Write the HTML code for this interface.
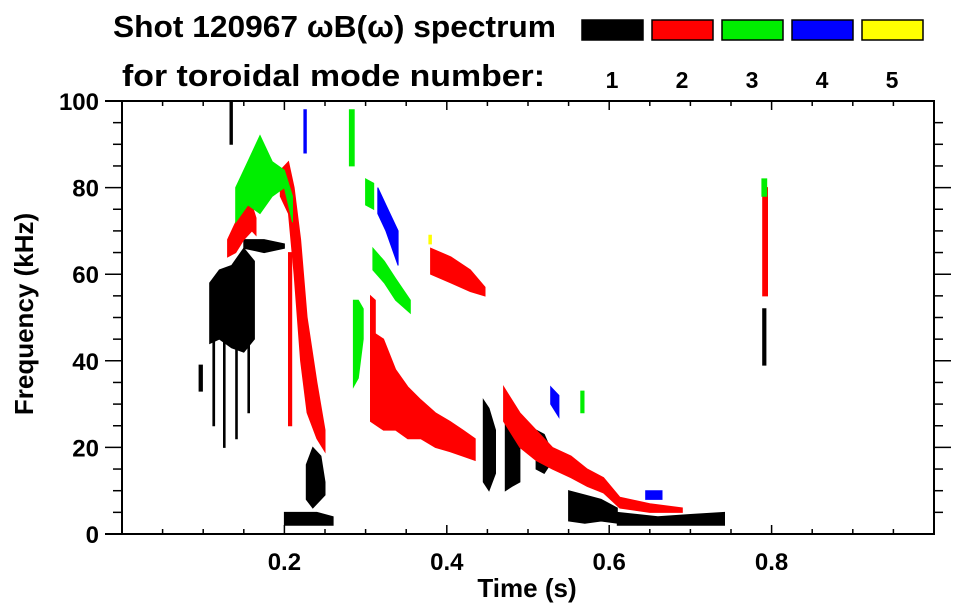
<!DOCTYPE html>
<html><head><meta charset="utf-8"><style>
html,body{margin:0;padding:0;background:#fff;}
svg{display:block;font-family:"Liberation Sans",Arial,sans-serif;font-weight:bold;}
</style></head><body>
<svg id="chart" width="963" height="615" viewBox="0 0 963 615">
<g>
<text x="113" y="37" font-size="31" textLength="443" lengthAdjust="spacingAndGlyphs">Shot 120967 ωB(ω) spectrum</text>
<text x="122" y="86" font-size="31" textLength="423" lengthAdjust="spacingAndGlyphs">for toroidal mode number:</text>
</g>
<g id="legend"></g>
<g id="marks"></g>
<g id="axes"></g>
<text x="527" y="597" font-size="26" text-anchor="middle">Time (s)</text>
<text transform="translate(33,314) rotate(-90)" font-size="26" text-anchor="middle">Frequency (kHz)</text>
</svg>
<script>
const modeColors=["#000000","#ff0000","#00ee00","#0000ff","#ffff00"];
const modeLabels=["1","2","3","4","5"];
const xTicks=[0.2,0.4,0.6,0.8];
const yTicks=[0,20,40,60,80,100];
// ridges: each is list of [time, fLow, fHigh]
const mode1Ridges=[
[[0.095,33,39],[0.099,33,39]],
[[0.108,44,58],[0.12,45,61],[0.135,43,62],[0.15,42,66],[0.163,45,63]],
[[0.112,25,45],[0.114,25,45]],[[0.125,20,45],[0.127,20,45]],[[0.14,22,44],[0.142,22,44]],[[0.155,28,44],[0.157,28,44]],
[[0.133,90,100],[0.136,90,100]],
[[0.15,66,68],[0.175,65,68],[0.2,66,67]],
[[0.2,2,5],[0.22,2,5],[0.24,2,5],[0.26,2,4]],
[[0.227,8,16],[0.235,6,20],[0.245,8,18],[0.25,9,12]],
[[0.445,12,31],[0.452,10,29],[0.46,14,24]],
[[0.472,10,26],[0.48,11,25],[0.49,12,24]],
[[0.51,15,24],[0.52,14,23],[0.527,16,20]],
[[0.55,3,10],[0.57,2.5,9],[0.59,3,8],[0.61,2.5,6]],
[[0.61,2,5],[0.66,2,4],[0.7,2,4.5],[0.742,2,5]],
[[0.789,39,52],[0.793,39,52]]
];
const mode2Ridges=[
[[0.13,64,68],[0.14,65,72],[0.15,68,77],[0.16,70,76],[0.165,69,73]],
[[0.195,78,84],[0.205,74,86],[0.212,60,80],[0.22,40,68],[0.228,28,50],[0.24,22,35],[0.25,19,24]],
[[0.205,25,65],[0.209,25,65]],
[[0.306,45,55],[0.312,44,54]],
[[0.306,26,47],[0.322,24,45],[0.337,24,38],[0.352,22,34],[0.368,22,31],[0.386,20,28],[0.404,19,26],[0.42,18,24],[0.435,17,22]],
[[0.38,60,66],[0.405,58,64],[0.429,56,61],[0.447,55,57]],
[[0.47,26,34],[0.49,20,28],[0.51,17,24],[0.53,15,20],[0.553,13,18],[0.573,11,15],[0.593,9.5,13],[0.613,6,8.5],[0.65,5,7],[0.69,5,6]],
[[0.789,55,80],[0.795,55,80]]
];
const mode3Ridges=[
[[0.14,72,80],[0.155,76,86],[0.17,74,92],[0.185,78,86],[0.2,80,84],[0.21,72,78]],
[[0.28,85,98],[0.286,85,98]],
[[0.285,34,54],[0.291,36,54],[0.297,45,52]],
[[0.3,76,82],[0.31,75,81]],
[[0.309,61,66],[0.323,58,63],[0.337,54,59],[0.355,51,54]],
[[0.565,28,33],[0.569,28,33]],
[[0.788,78,82],[0.794,78,82]]
];
const mode4Ridges=[
[[0.224,88,98],[0.227,88,98]],
[[0.315,74,80],[0.325,70,76],[0.34,62,70]],
[[0.528,30,34],[0.538,27,32]],
[[0.645,8,10],[0.665,8,10]]
];
const mode5Ridges=[
[[0.378,67,69],[0.381,67,69]]
];
const allModes=[mode1Ridges,mode2Ridges,mode3Ridges,mode4Ridges,mode5Ridges];
const NS="http://www.w3.org/2000/svg";
const X0=122,X1=934,Y0=534,Y1=101;
const xS=t=>X0+t*(X1-X0);
const yS=f=>Y0-f/100*(Y0-Y1);
function mk(tag,attrs,parent){const e=document.createElementNS(NS,tag);for(const k in attrs)e.setAttribute(k,attrs[k]);parent.appendChild(e);return e;}
const marks=document.getElementById('marks');
allModes.forEach((ridges,m)=>{
  ridges.forEach((r,i)=>{
    const top=r.map(p=>xS(p[0]).toFixed(1)+","+yS(p[2]).toFixed(1));
    const bot=r.slice().reverse().map(p=>xS(p[0]).toFixed(1)+","+yS(p[1]).toFixed(1));
    const p=mk('polygon',{points:top.concat(bot).join(" "),fill:modeColors[m],stroke:modeColors[m],'stroke-width':1},marks);
    
    
  });
});
const legend=document.getElementById('legend');
modeColors.forEach((c,i)=>{
  const x=582+i*70;
  const r=mk('rect',{x:x,y:20,width:61,height:20,fill:c,stroke:'#000','stroke-width':1.5},legend);
  
  
  const t=mk('text',{x:x+30,y:88,'font-size':23,'text-anchor':'middle'},legend);
  t.textContent=modeLabels[i];
  
  
});
const axes=document.getElementById('axes');
const frame=mk('rect',{x:X0,y:Y1,width:X1-X0,height:Y0-Y1,fill:'none',stroke:'#000','stroke-width':2},axes);


mk('line',{x1:105,y1:Y1,x2:X0,y2:Y1,stroke:'#000','stroke-width':2},axes);
mk('line',{x1:105,y1:Y0,x2:X0,y2:Y0,stroke:'#000','stroke-width':2},axes);
for(let k=1;k<20;k++){
  const t=k*0.05,x=xS(t),maj=k%4===0;
  mk('line',{x1:x,y1:Y0,x2:x,y2:Y0-(maj?9:5),stroke:'#000','stroke-width':1.5},axes);
  mk('line',{x1:x,y1:Y1,x2:x,y2:Y1+(maj?9:5),stroke:'#000','stroke-width':1.5},axes);
}
for(let k=1;k<20;k++){
  const f=k*5,y=yS(f),maj=k%4===0;
  mk('line',{x1:X0,y1:y,x2:X0-(maj?17:9),y2:y,stroke:'#000','stroke-width':1.5},axes);
  mk('line',{x1:X1,y1:y,x2:X1+(maj?17:9),y2:y,stroke:'#000','stroke-width':1.5},axes);
}
xTicks.forEach(t=>{
  const e=mk('text',{x:xS(t),y:570,'font-size':24,'text-anchor':'middle'},axes);
  e.textContent=t.toFixed(1);
  
  
});
yTicks.forEach(f=>{
  const e=mk('text',{x:99,y:yS(f)+9,'font-size':24,'text-anchor':'end'},axes);
  e.textContent=String(f);
  
  
});
</script>
</body></html>
